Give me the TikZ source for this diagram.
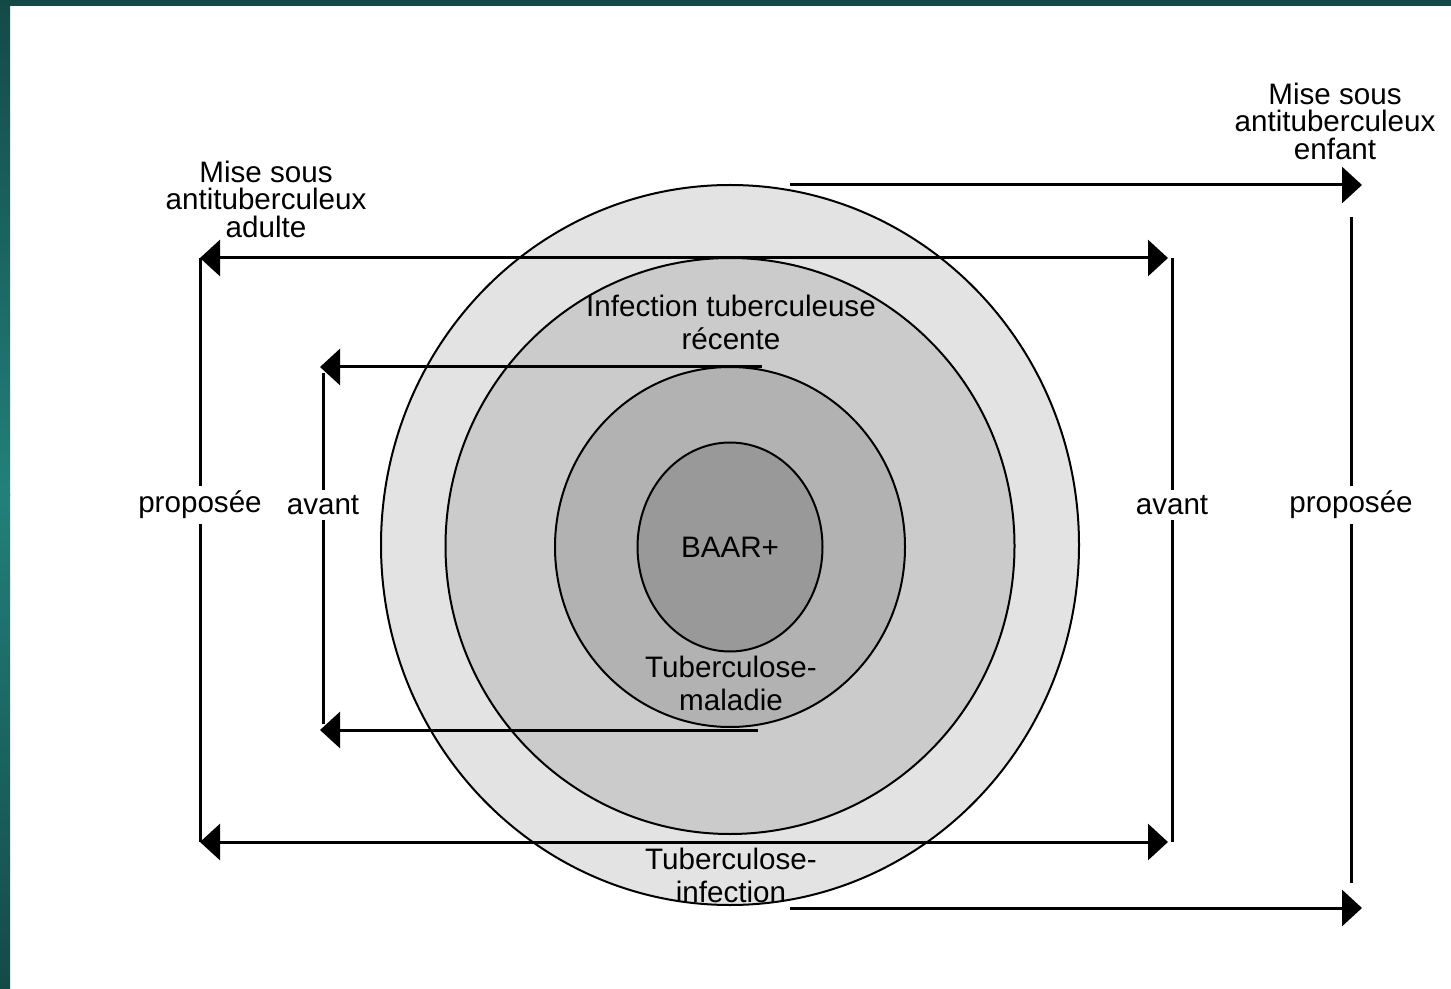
\documentclass[tikz,border=0pt]{standalone}
\usepackage{fontspec}
\setmainfont{Liberation Sans}
\usetikzlibrary{shapes.geometric,arrows.meta}

\definecolor{bandDark}{HTML}{134A48}
\definecolor{bandMid}{HTML}{22807A}
\definecolor{zoneInfect}{HTML}{E3E3E3}
\definecolor{zoneRecent}{HTML}{CBCBCB}
\definecolor{zoneMalad}{HTML}{B2B2B2}
\definecolor{zoneBaar}{HTML}{999999}

\begin{document}
\begin{tikzpicture}[x=0.5pt,y=-0.5pt,
  zone/.style={ellipse,draw=black,line width=1pt,inner sep=0pt},
  lbl/.style={font=\fontsize{14.8}{13.75}\selectfont,align=center,inner sep=2.5pt},
  inlbl/.style={font=\fontsize{14.8}{16.5}\selectfont,align=center,inner sep=0pt},
  bar/.style={line width=1.5pt},
  arr/.style={line width=1.5pt,-{Triangle[length=10pt,width=18pt]}},
  dbl/.style={line width=1.5pt,{Triangle[length=10pt,width=18pt]}-{Triangle[length=10pt,width=18pt]}}]

\useasboundingbox (0,0) rectangle (1451,989);
% Frame bands
\fill[white] (0,0) rectangle (1451,989);
\shade[top color=bandDark,bottom color=bandMid] (0,0) rectangle (10,495);
\shade[top color=bandMid,bottom color=bandDark] (0,494) rectangle (10,989);
\fill[bandDark] (0,0) rectangle (1451,6);

% Nested zones
\node[zone,fill=zoneInfect,minimum width=349pt,minimum height=360pt] (infect) at (730,545) {};
\node[zone,fill=zoneRecent,minimum width=284.5pt,minimum height=288pt] (recent) at (730,546) {};
\node[zone,fill=zoneMalad,minimum width=175pt,minimum height=180pt] (malad) at (730,547) {};
\node[zone,fill=zoneBaar,minimum width=92.5pt,minimum height=104.5pt,font=\fontsize{14.8}{16.5}\selectfont] (baar) at (730,547) {BAAR+};

% Zone labels
\node[inlbl] (lblRecent) at (731,322) {Infection tuberculeuse\\récente};
\node[inlbl] (lblMalad) at (731,683) {Tuberculose-\\maladie};
\node[inlbl] (lblInfect) at (731,875) {Tuberculose-\\infection};

% Treatment labels
\node[lbl] (lblAdulte) at (266,199) {Mise sous\\antituberculeux\\adulte};
\node[lbl] (lblEnfant) at (1335,121) {Mise sous\\antituberculeux\\enfant};
\node[lbl] (propL) at (200,505) {proposée};
\node[lbl] (avL) at (323,505) {avant};
\node[lbl] (avR) at (1172,505) {avant};
\node[lbl] (propR) at (1351,505) {proposée};

% Arrow ends
\coordinate (enfTL) at (790,185);
\coordinate (enfTR) at (1362,185);
\coordinate (enfBL) at (790,908);
\coordinate (enfBR) at (1362,908);
\coordinate (enfTop) at (1351,217);
\coordinate (enfBot) at (1351,883);
\coordinate (adTL) at (200,258);
\coordinate (adTR) at (1168,258);
\coordinate (adBL) at (200,842);
\coordinate (adBR) at (1168,842);
\coordinate (avTL) at (320,367);
\coordinate (avBL) at (320,730);

% Child treatment bracket
\draw[arr] (enfTL) -- (enfTR);
\draw[arr] (enfBL) -- (enfBR);
\draw[bar] (enfTop) -- (propR) -- (enfBot);

% Adult treatment bracket
\draw[dbl] (adTL) -- (adTR);
\draw[dbl] (adBL) -- (adBR);
\draw[bar] (propL |- adTL) -- (propL) -- (propL |- adBL);
\draw[bar] (avR |- adTR) -- (avR) -- (avR |- adBR);

% Disease bracket
\draw[arr] ([xshift=16pt]malad.north |- avTL) -- (avTL);
\draw[arr] ([xshift=14pt]malad.north |- avBL) -- (avBL);
\draw[bar] ([yshift=-3pt]avL |- avTL) -- (avL) -- ([yshift=3pt]avL |- avBL);

\end{tikzpicture}
\end{document}
